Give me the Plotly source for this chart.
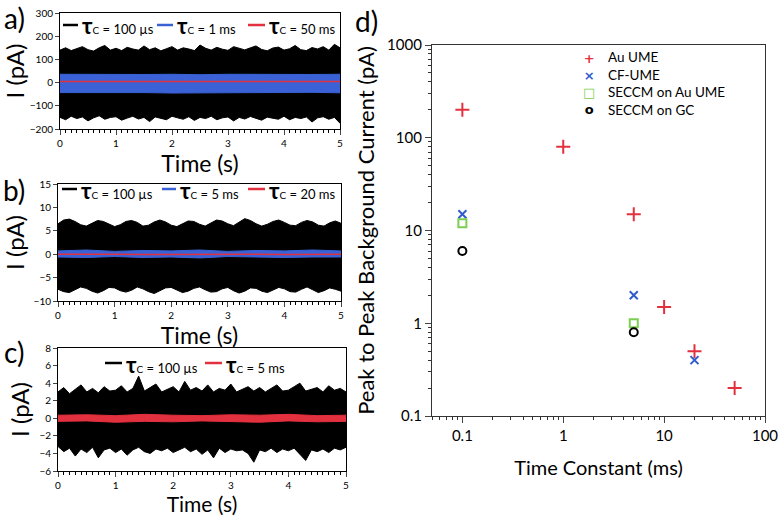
import plotly.graph_objects as go

W, H = 784, 516
FONT = "Lato"

# ---------------- data ----------------
t_env = [round(i * 0.1, 1) for i in range(51)]          # s
t_band = [round(i * 0.5, 1) for i in range(11)]         # s

# panel a (pA)
a_black_hi = [140,150,138,145,155,142,136,150,160,140,148,138,152,145,140,158,142,150,137,146,155,140,150,145,138,162,148,140,152,144,139,155,147,141,150,158,143,137,149,153,140,146,160,142,138,151,145,155,140,165,150]
a_black_lo = [-150,-160,-145,-155,-148,-165,-152,-143,-158,-150,-147,-162,-153,-145,-157,-150,-168,-148,-155,-160,-145,-152,-158,-147,-163,-150,-155,-145,-160,-152,-148,-165,-150,-157,-146,-155,-162,-149,-153,-158,-145,-160,-150,-155,-148,-170,-152,-147,-158,-150,-175]
a_blue_hi = [36,35,37,35,36,34,36,35,37,35,36]
a_blue_lo = [-43,-44,-42,-43,-45,-43,-42,-44,-43,-42,-44]
a_red = [5,5,4,5,5,4,5,5,4,5,5]

# panel b (pA)
b_black_hi = [6.5,7.3,7.5,7.0,6.3,6.0,6.6,7.2,7.0,6.4,5.9,6.3,7.0,7.2,6.8,6.0,6.2,6.9,7.3,6.9,6.2,5.9,6.5,7.1,7.0,6.4,6.0,6.6,7.3,7.1,6.5,6.1,6.8,7.6,7.2,6.5,6.0,6.4,7.0,7.3,6.8,6.2,6.1,6.8,7.2,6.9,6.2,6.0,6.7,7.1,6.6]
b_black_lo = [-7.5,-8.0,-8.2,-7.6,-7.0,-7.3,-7.9,-8.3,-7.8,-7.1,-7.2,-7.8,-8.1,-7.7,-7.0,-7.4,-8.0,-8.4,-7.8,-7.2,-7.1,-7.7,-8.2,-7.9,-7.3,-7.0,-7.6,-8.1,-8.0,-7.4,-7.1,-7.8,-8.3,-7.9,-7.2,-7.3,-7.9,-8.2,-7.7,-7.1,-7.4,-8.0,-8.1,-7.5,-7.0,-7.6,-8.2,-7.8,-7.2,-7.5,-7.9]
b_blue_hi = [0.7,0.9,0.6,0.8,0.7,0.9,0.6,0.8,0.7,0.9,0.7]
b_blue_lo = [-0.6,-0.7,-0.5,-0.7,-0.6,-0.8,-0.5,-0.6,-0.7,-0.6,-0.6]
b_red = [0.0,0.05,0.0,-0.05,0.0,0.05,0.0,0.0,-0.05,0.0,0.0]

# panel c (pA)
c_black_hi = [3.0,3.5,2.8,3.3,3.8,3.0,3.4,2.9,3.6,3.1,3.2,3.7,3.0,3.4,4.8,3.1,3.5,3.9,3.0,3.3,3.6,3.0,4.2,3.2,3.5,3.1,3.8,3.0,3.4,3.2,3.9,3.0,3.3,3.6,3.1,3.5,3.0,3.4,3.8,3.1,3.2,3.6,4.0,3.1,3.3,3.5,3.0,3.7,3.2,3.4,3.0]
c_black_lo = [-3.2,-3.8,-3.4,-4.3,-3.5,-3.9,-3.3,-4.5,-3.6,-3.4,-3.9,-3.5,-4.2,-3.6,-3.3,-3.8,-4.0,-3.5,-3.7,-3.4,-3.9,-3.6,-3.3,-3.8,-3.5,-4.1,-3.6,-4.5,-3.4,-3.9,-3.5,-3.7,-3.6,-4.0,-5.0,-3.6,-3.8,-3.4,-3.9,-3.5,-3.7,-3.4,-4.1,-4.8,-3.6,-3.8,-3.5,-3.9,-3.4,-3.6,-3.3]
c_red_hi = [0.35,0.4,0.3,0.45,0.35,0.3,0.4,0.35,0.45,0.3,0.35]
c_red_lo = [-0.35,-0.3,-0.45,-0.35,-0.4,-0.3,-0.35,-0.45,-0.3,-0.4,-0.35]

legend_a = ["100 µs", "1 ms", "50 ms"]
legend_b = ["100 µs", "5 ms", "20 ms"]
legend_c = ["100 µs", "5 ms"]

# panel d
d_series = ["Au UME", "CF-UME", "SECCM on Au UME", "SECCM on GC"]
d_au_x = [0.1, 1, 5, 10, 20, 50]
d_au_y = [200, 80, 15, 1.5, 0.5, 0.2]
d_cf_x = [0.1, 5, 20]
d_cf_y = [15, 2, 0.4]
d_secau_x = [0.1, 5]
d_secau_y = [12, 1.0]
d_secgc_x = [0.1, 5]
d_secgc_y = [6, 0.8]
d_xticks = [0.1, 1, 10, 100]
d_yticks = [0.1, 1, 10, 100, 1000]

a_yticks = [-200, -100, 0, 100, 200, 300]
b_yticks = [-10, -5, 0, 5, 10, 15]
c_yticks = [-6, -4, -2, 0, 2, 4, 6, 8]
t_ticks = [0, 1, 2, 3, 4, 5]

# ---------------- style ----------------
BLACK = "#000000"
BLUE = "#3a62d6"
RED = "#e3303e"
GREEN = "#7ccf52"
BLUE_X = "#2f5ccc"

def px(x):
    return x / W

def py(y):
    return 1 - y / H

fig = go.Figure()

def band(t, hi, lo, color, xa, ya):
    fig.add_trace(go.Scatter(
        x=list(t) + list(t)[::-1], y=list(hi) + list(lo)[::-1],
        fill="toself", fillcolor=color, mode="lines",
        line=dict(color=color, width=1), xaxis=xa, yaxis=ya,
        showlegend=False, hoverinfo="skip"))

def line(t, y, color, xa, ya, w=1.5):
    fig.add_trace(go.Scatter(x=t, y=y, mode="lines", line=dict(color=color, width=w),
                             xaxis=xa, yaxis=ya, showlegend=False))

band(t_env, a_black_hi, a_black_lo, BLACK, "x", "y")
band(t_band, a_blue_hi, a_blue_lo, BLUE, "x", "y")
line(t_band, a_red, RED, "x", "y", 1.5)

band(t_env, b_black_hi, b_black_lo, BLACK, "x2", "y2")
band(t_band, b_blue_hi, b_blue_lo, BLUE, "x2", "y2")
line(t_band, b_red, RED, "x2", "y2", 1.5)

band(t_env, c_black_hi, c_black_lo, BLACK, "x3", "y3")
band(t_band, c_red_hi, c_red_lo, RED, "x3", "y3")

# panel d
fig.add_trace(go.Scatter(x=d_au_x, y=d_au_y, mode="markers", name=d_series[0],
    marker=dict(symbol="cross-thin", size=10, line=dict(color=RED, width=2)),
    xaxis="x4", yaxis="y4", showlegend=False))
fig.add_trace(go.Scatter(x=d_cf_x, y=d_cf_y, mode="markers", name=d_series[1],
    marker=dict(symbol="x-thin", size=8, line=dict(color=BLUE_X, width=2)),
    xaxis="x4", yaxis="y4", showlegend=False))
fig.add_trace(go.Scatter(x=d_secau_x, y=d_secau_y, mode="markers", name=d_series[2],
    marker=dict(symbol="square-open", size=8, color=GREEN, line=dict(color=GREEN, width=2)),
    xaxis="x4", yaxis="y4", showlegend=False))
fig.add_trace(go.Scatter(x=d_secgc_x, y=d_secgc_y, mode="markers", name=d_series[3],
    marker=dict(symbol="circle-open", size=8, color=BLACK, line=dict(color=BLACK, width=2)),
    xaxis="x4", yaxis="y4", showlegend=False))

tickfont = dict(family=FONT, size=10, color="black")

def time_axis(domain, standoff, size=23):
    return dict(domain=domain, range=[0, 5], tickvals=t_ticks, ticks="outside", ticklen=5,
                tickwidth=1, showline=True, linecolor="black", linewidth=1, mirror=True,
                showgrid=False, zeroline=False, tickfont=tickfont,
                minor=dict(ticks="outside", ticklen=3, dtick=0.1, tick0=0, tickcolor="black", showgrid=False),
                title=dict(text="Time (s)", font=dict(family=FONT, size=size, color="black"), standoff=standoff))

def i_axis(domain, rng, ticks, anchor):
    return dict(domain=domain, range=rng, tickvals=ticks, ticks="outside", ticklen=4,
                tickwidth=1, showline=True, linecolor="black", linewidth=1, mirror=True,
                showgrid=False, zeroline=False, tickfont=tickfont, anchor=anchor,
                title=dict(text="I (pA)", font=dict(family=FONT, size=24, color="black"), standoff=2))

minor_x = [m * 10 ** e for e in (-2, -1, 0, 1) for m in range(2, 10) if 0.05 <= m * 10 ** e < 100]
minor_y = [m * 10 ** e for e in (-1, 0, 1, 2) for m in range(2, 10)]

fig.update_layout(
    width=W, height=H, margin=dict(l=0, r=0, t=0, b=0, autoexpand=False),
    paper_bgcolor="white", plot_bgcolor="white", showlegend=False,
    xaxis=dict(time_axis([px(60), px(340)], 3), anchor="y"),
    yaxis=i_axis([py(129), py(13)], [-200, 300], a_yticks, "x"),
    xaxis2=dict(time_axis([px(58), px(341)], 3), anchor="y2"),
    yaxis2=i_axis([py(301), py(184)], [-10, 15], b_yticks, "x2"),
    xaxis3=dict(time_axis([px(58), px(346)], 6, 21), anchor="y3"),
    yaxis3=i_axis([py(471), py(348)], [-6, 8], c_yticks, "x3"),
    xaxis4=dict(domain=[px(432), px(765)], type="log", range=[-1.30103, 2], anchor="y4",
                tickvals=d_xticks, ticktext=["0.1", "1", "10", "100"], ticks="outside",
                ticklen=6, showline=True, linecolor="#333", linewidth=1.2, mirror=True,
                showgrid=False, zeroline=False, tickfont=dict(family=FONT, size=15, color="black"),
                minor=dict(tickmode="array", tickvals=minor_x, ticks="outside", ticklen=3, tickcolor="#333", showgrid=False),
                title=dict(text="Time Constant (ms)", font=dict(family=FONT, size=20, color="black"), standoff=17)),
    yaxis4=dict(domain=[py(416), py(45)], type="log", range=[-1, 3], anchor="x4",
                tickvals=d_yticks, ticktext=["0.1", "1", "10", "100", "1000"], ticks="outside",
                ticklen=6, showline=True, linecolor="#333", linewidth=1.2, mirror=True,
                showgrid=False, zeroline=False, tickfont=dict(family=FONT, size=15, color="black"),
                minor=dict(tickmode="array", tickvals=minor_y, ticks="outside", ticklen=3, tickcolor="#333", showgrid=False),
                title=dict(text="Peak to Peak Background Current (pA)", font=dict(family=FONT, size=22, color="black"), standoff=6)),
)

# panel labels
for lab, (x, y) in {"a)": (14, 18), "b)": (14, 190), "c)": (14, 352), "d)": (366, 21)}.items():
    fig.add_annotation(text=lab, x=px(x), y=py(y), xref="paper", yref="paper", showarrow=False,
                       font=dict(family=FONT, size=28, color="black"), xanchor="center", yanchor="middle")

# panel legends (line samples + text)
def tau_label(v):
    return "<span style='font-size:22px'><b>τ</b></span><span style='font-size:10px'>C</span> = " + v

def legend_row(items, y):
    for (x0, x1, color, label) in items:
        fig.add_shape(type="line", x0=px(x0), x1=px(x1), y0=py(y), y1=py(y), xref="paper", yref="paper",
                      line=dict(color=color, width=2.5))
        fig.add_annotation(text=tau_label(label), x=px(x1 + 2), y=py(y + 1), xref="paper", yref="paper",
                           showarrow=False, xanchor="left", yanchor="middle",
                           font=dict(family=FONT, size=13, color="black"))

legend_row([(63, 78, BLACK, legend_a[0]), (157, 173, BLUE, legend_a[1]), (248, 265, RED, legend_a[2])], 25)
legend_row([(62, 77, BLACK, legend_b[0]), (162, 176, BLUE, legend_b[1]), (248, 265, RED, legend_b[2])], 189)
legend_row([(105, 122, BLACK, legend_c[0]), (205, 222, RED, legend_c[1])], 363)

# panel d legend: glyph column and label column
glyphs = [("+", RED), ("×", BLUE_X), ("□", GREEN), ("o", BLACK)]
glyph_text = "<br>".join(f"<span style='color:{c}'><b>{g}</b></span>" for g, c in glyphs)
fig.add_annotation(text=glyph_text, x=px(589), y=py(83.5), xref="paper", yref="paper", showarrow=False,
                   xanchor="center", yanchor="middle", align="center",
                   font=dict(family="DejaVu Sans", size=13, color="black"))
fig.add_annotation(text="<br>".join(d_series), x=px(606), y=py(83.5), xref="paper", yref="paper",
                   showarrow=False, xanchor="left", yanchor="middle", align="left",
                   font=dict(family=FONT, size=13.5, color="black"))

fig.write_html("out.html", config={"displayModeBar": False},
               post_script="document.body.style.margin='0px';document.body.style.overflow='hidden';")
